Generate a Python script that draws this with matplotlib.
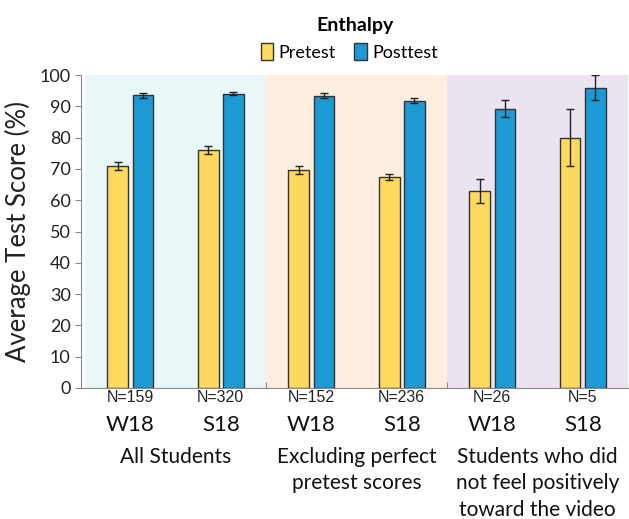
import numpy as np
import matplotlib.pyplot as plt

# data
semesters = ["W18", "S18", "W18", "S18", "W18", "S18"]
n_labels = ["N=159", "N=320", "N=152", "N=236", "N=26", "N=5"]
groups = ["All Students", "Excluding perfect\npretest scores",
          "Students who did\nnot feel positively\ntoward the video"]
pretest = [71.0, 76.0, 69.7, 67.3, 63.0, 80.0]
pretest_err = [1.3, 1.2, 1.3, 1.0, 3.8, 9.0]
posttest = [93.5, 94.0, 93.3, 91.8, 89.2, 96.0]
posttest_err = [0.8, 0.5, 0.8, 0.8, 2.7, 4.0]

shade_colors = ["#E9F7F8", "#FDEEDF", "#EBE3EF"]
c_pre = "#FFD95E"
c_post = "#1D9AD6"

plt.rcParams['font.family'] = ['Lato', 'DejaVu Sans']

fig = plt.figure(figsize=(6.29, 5.19), dpi=100)
ax = fig.add_axes([81 / 629, 1 - 388 / 519, 547 / 629, 313 / 519])

x = np.arange(len(semesters))
w = 0.23
off = 0.14

# background shading per group
for i, col in enumerate(shade_colors):
    ax.axvspan(2 * i - 0.5, 2 * i + 1.5, color=col, zorder=0, lw=0)

ekw = dict(ecolor="#222222", elinewidth=1.0, capsize=3, capthick=1.0)
ax.bar(x - off, pretest, w, yerr=pretest_err, color=c_pre, edgecolor="#333333",
       linewidth=1.0, label="Pretest", zorder=2, error_kw=ekw)
ax.bar(x + off, posttest, w, yerr=posttest_err, color=c_post, edgecolor="#333333",
       linewidth=1.0, label="Posttest", zorder=2, error_kw=ekw)

ax.set_xlim(-0.545, 5.5)
ax.set_ylim(0, 100)
ax.set_yticks(np.arange(0, 101, 10))
ax.tick_params(axis='y', labelsize=13, direction='out', length=4, color="#888888",
               labelcolor="#222222")
ax.set_xticks([1.5, 3.5])
ax.set_xticklabels([])
ax.tick_params(axis='x', direction='in', length=4, color="#888888")
for s in ["top", "right"]:
    ax.spines[s].set_visible(False)
for s in ["left", "bottom"]:
    ax.spines[s].set_color("#888888")

ax.set_ylabel("Average Test Score (%)", fontsize=18.5, color="#222222", labelpad=6)

trans = ax.get_xaxis_transform()
for xi, n, sem in zip(x, n_labels, semesters):
    ax.text(xi, -10 / 313, n, transform=trans, ha='center', va='center',
            fontsize=11.5, family=['Liberation Sans'], color="#222222")
    ax.text(xi, -37 / 313, sem, transform=trans, ha='center', va='center',
            fontsize=16, color="#111111")
for i, g in enumerate(groups):
    ax.text(2 * i + 0.5, -59 / 313, g, transform=trans, ha='center', va='top',
            fontsize=15, color="#111111", linespacing=1.4)

fig.text(0.565, 1 - 25 / 519, "Enthalpy", ha='center', va='center',
         fontsize=14, fontweight='bold')
fig.legend(loc='center', bbox_to_anchor=(0.555, 1 - 52 / 519), ncol=2,
           frameon=False, fontsize=13, handlelength=0.7, handleheight=1.0,
           handletextpad=0.3, columnspacing=1.0)

fig.savefig("out.png", dpi=100)
